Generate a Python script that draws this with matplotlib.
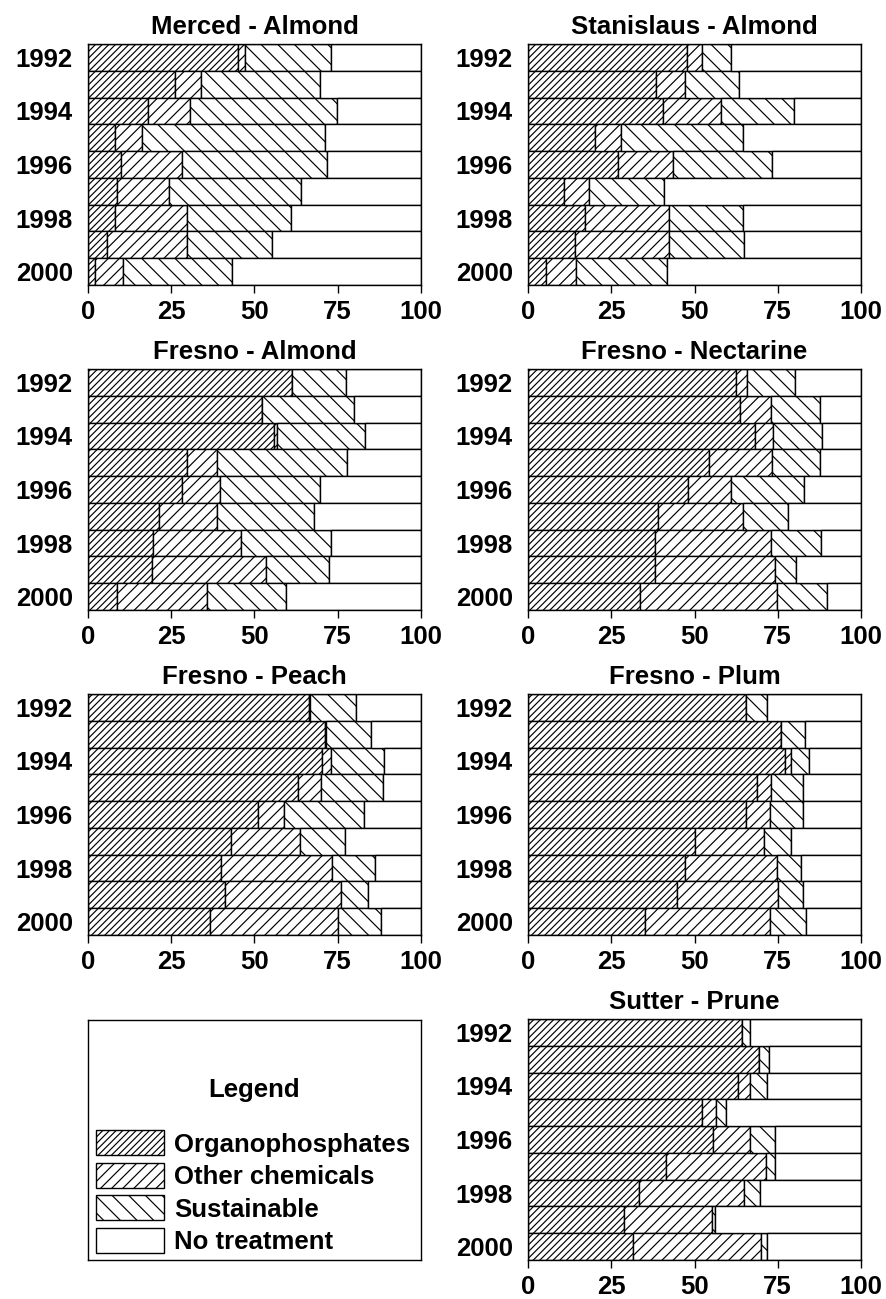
import matplotlib
matplotlib.use("Agg")
import matplotlib.pyplot as plt
from matplotlib.patches import Patch
import numpy as np

plt.rcParams['font.family'] = ['Liberation Sans', 'DejaVu Sans']
plt.rcParams['font.weight'] = 'bold'
plt.rcParams['hatch.linewidth'] = 0.85

# Years, top to bottom
years = [1992, 1993, 1994, 1995, 1996, 1997, 1998, 1999, 2000]
tick_years = [1992, 1994, 1996, 1998, 2000]

# percentages: organophosphates, other chemicals, sustainable (rest = no treatment)
merced_almond_op = [44.9, 26.0, 18.0, 8.2, 9.9, 8.6, 8.0, 5.7, 2.0]
merced_almond_other = [2.1, 7.9, 12.7, 8.1, 18.4, 15.8, 21.7, 24.0, 8.6]
merced_almond_sust = [26.1, 35.9, 44.0, 54.9, 43.5, 39.7, 31.4, 25.7, 32.5]

stanislaus_almond_op = [47.7, 38.3, 40.4, 20.2, 26.9, 10.9, 17.1, 14.1, 5.3]
stanislaus_almond_other = [4.6, 8.9, 17.6, 7.6, 16.7, 7.4, 25.3, 28.3, 9.0]
stanislaus_almond_sust = [8.8, 16.3, 21.8, 36.9, 29.7, 22.6, 22.1, 22.4, 27.4]

fresno_almond_op = [61.3, 52.3, 56.0, 29.8, 28.3, 21.3, 19.6, 19.1, 8.8]
fresno_almond_other = [0.0, 0.0, 0.9, 9.0, 11.4, 17.3, 26.4, 34.4, 26.9]
fresno_almond_sust = [16.3, 27.6, 26.4, 38.9, 29.9, 29.2, 27.0, 19.0, 23.8]

fresno_nectarine_op = [62.5, 63.8, 68.1, 54.4, 47.9, 39.1, 38.2, 38.2, 33.7]
fresno_nectarine_other = [3.3, 9.3, 5.5, 19.0, 13.0, 25.4, 34.7, 36.1, 41.0]
fresno_nectarine_sust = [14.5, 14.5, 14.8, 14.3, 21.9, 13.7, 15.0, 6.3, 15.2]

fresno_peach_op = [66.4, 71.1, 70.4, 63.2, 51.1, 43.0, 39.8, 41.2, 36.6]
fresno_peach_other = [0.3, 0.3, 2.5, 6.7, 7.9, 20.6, 33.5, 34.8, 38.6]
fresno_peach_sust = [13.7, 13.7, 16.0, 18.7, 24.0, 13.6, 12.9, 8.0, 12.8]

fresno_plum_op = [65.5, 76.0, 77.2, 68.7, 65.4, 50.2, 47.0, 44.8, 35.1]
fresno_plum_other = [0.0, 0.0, 1.8, 4.2, 7.4, 20.6, 27.8, 30.4, 37.7]
fresno_plum_sust = [6.2, 7.1, 5.5, 9.8, 9.7, 8.3, 7.1, 7.5, 10.7]

sutter_prune_op = [64.2, 69.4, 63.1, 52.4, 55.5, 41.3, 33.2, 28.9, 31.5]
sutter_prune_other = [0.0, 0.0, 3.7, 4.0, 11.2, 30.1, 31.6, 26.4, 38.4]
sutter_prune_sust = [2.4, 3.0, 4.9, 3.1, 7.6, 2.9, 4.9, 1.0, 2.0]

categories = ['Organophosphates', 'Other chemicals', 'Sustainable', 'No treatment']
hatches = ['/////', '///', '\\\\', '']

# (title, series, column, row)
panels = [
    ('Merced - Almond', merced_almond_op, merced_almond_other, merced_almond_sust, 0, 0),
    ('Stanislaus - Almond', stanislaus_almond_op, stanislaus_almond_other, stanislaus_almond_sust, 1, 0),
    ('Fresno - Almond', fresno_almond_op, fresno_almond_other, fresno_almond_sust, 0, 1),
    ('Fresno - Nectarine', fresno_nectarine_op, fresno_nectarine_other, fresno_nectarine_sust, 1, 1),
    ('Fresno - Peach', fresno_peach_op, fresno_peach_other, fresno_peach_sust, 0, 2),
    ('Fresno - Plum', fresno_plum_op, fresno_plum_other, fresno_plum_sust, 1, 2),
    ('Sutter - Prune', sutter_prune_op, sutter_prune_other, sutter_prune_sust, 1, 3),
]

W, H = 887, 1299
fig = plt.figure(figsize=(W / 100, H / 100), dpi=100)

col_x = [88, 528]
row_top = [44, 369, 694, 1019]
ax_w, ax_h = 333, 241
FS = 18.5


def rect(x, top, w, h):
    return [x / W, 1 - (top + h) / H, w / W, h / H]


y = np.arange(len(years))
for title, op, other, sust, c, r in panels:
    ax = fig.add_axes(rect(col_x[c], row_top[r], ax_w, ax_h))
    op = np.array(op)
    other = np.array(other)
    sust = np.array(sust)
    none = 100 - op - other - sust
    left = np.zeros(len(years))
    for vals, h in zip([op, other, sust, none], hatches):
        ax.barh(y, vals, left=left, height=1.0, color='white', edgecolor='black',
                linewidth=1.0, hatch=h)
        left = left + vals
    ax.set_xlim(0, 100)
    ax.set_ylim(len(years) - 0.5, -0.5)
    ax.set_xticks([0, 25, 50, 75, 100])
    ax.set_yticks([years.index(yr) for yr in tick_years])
    ax.set_yticklabels([str(yr) for yr in tick_years])
    ax.tick_params(axis='y', length=0, pad=11, labelsize=FS)
    ax.tick_params(axis='x', length=6, width=1.0, pad=4.5, labelsize=FS)
    for s in ax.spines.values():
        s.set_linewidth(1.0)
    ax.set_title(title, fontsize=FS, fontweight='bold', pad=7)

# legend panel
lax = fig.add_axes(rect(88, 1020, 333, 240))
lax.set_xticks([])
lax.set_yticks([])
for s in lax.spines.values():
    s.set_linewidth(1.0)
lax.text(0.5, 0.708, 'Legend', transform=lax.transAxes, ha='center', va='center',
         fontsize=FS, fontweight='bold')
handles = [Patch(facecolor='white', edgecolor='black', linewidth=1.0, hatch=h) for h in hatches]
lax.legend(handles, categories, loc='lower left', bbox_to_anchor=(0.024, 0.025),
           frameon=False, fontsize=FS, handlelength=2.65, handleheight=1.1,
           labelspacing=0.25, handletextpad=0.4, borderpad=0, borderaxespad=0)

fig.savefig('out.png', dpi=100)
